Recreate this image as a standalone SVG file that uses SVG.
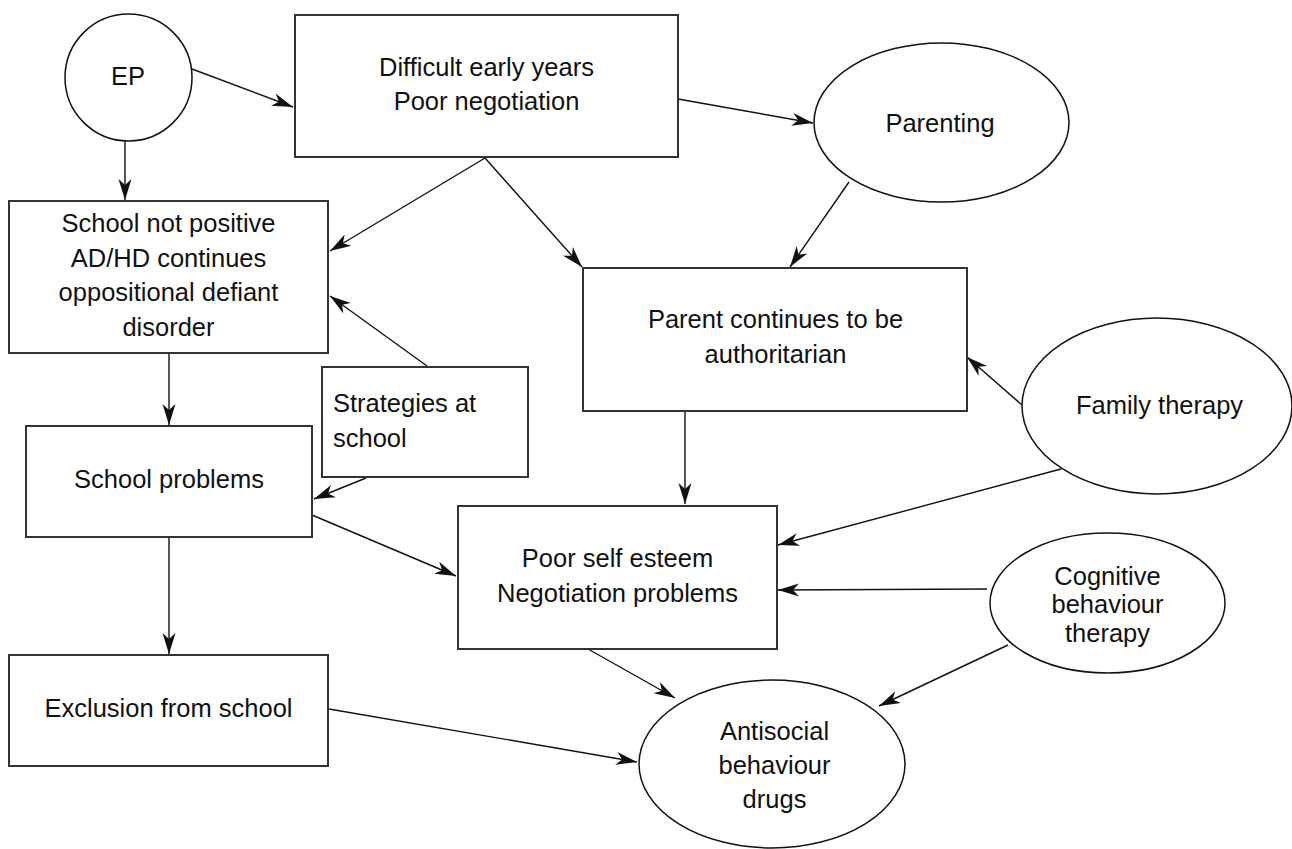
<svg xmlns="http://www.w3.org/2000/svg" width="1292" height="849" viewBox="0 0 1292 849">
  <style>
    .box { fill: #ffffff; stroke: #333333; stroke-width: 2; }
    .oval { fill: #ffffff; stroke: #111111; stroke-width: 1.5; }
    .lbl { font-family: "Liberation Sans", Arial, sans-serif; font-size: 25.5px; fill: #111111; text-anchor: middle; }
    .lbl-left { text-anchor: start; }
    .edge { stroke: #111111; stroke-width: 1.4; fill: none; marker-end: url(#arrow); }
  </style>
  <defs>
    <marker id="arrow" markerUnits="userSpaceOnUse" markerWidth="24" markerHeight="16" viewBox="-22 -8 24 16" refX="0" refY="0" orient="auto">
      <path d="M0,0 L-21,-6.5 L-15,0 L-21,6.5 Z" fill="#111111"/>
    </marker>
  </defs>
  <rect width="1292" height="849" fill="#ffffff"/>

  <g id="connectors">
    <line class="edge" x1="192" y1="69" x2="293" y2="107"/>
    <line class="edge" x1="125" y1="141" x2="125" y2="200"/>
    <line class="edge" x1="678" y1="99" x2="813" y2="123"/>
    <line class="edge" x1="485" y1="158" x2="330" y2="251"/>
    <line class="edge" x1="485" y1="158" x2="582" y2="267"/>
    <line class="edge" x1="849" y1="182" x2="790" y2="267"/>
    <line class="edge" x1="427" y1="366" x2="330" y2="296"/>
    <line class="edge" x1="366" y1="478" x2="314" y2="499"/>
    <line class="edge" x1="169" y1="353" x2="169" y2="425"/>
    <line class="edge" x1="169" y1="537" x2="169" y2="654"/>
    <line class="edge" x1="312" y1="515" x2="456" y2="576"/>
    <line class="edge" x1="685" y1="411" x2="685" y2="504"/>
    <line class="edge" x1="1022" y1="405" x2="967" y2="357"/>
    <line class="edge" x1="1061" y1="469" x2="778" y2="545"/>
    <line class="edge" x1="987" y1="589" x2="778" y2="590"/>
    <line class="edge" x1="1008" y1="645" x2="879" y2="706"/>
    <line class="edge" x1="588" y1="649" x2="675" y2="698"/>
    <line class="edge" x1="329" y1="709" x2="637" y2="762"/>
  </g>

  <g id="node-ep">
    <circle class="oval" cx="128.5" cy="77.5" r="63.5"/>
    <text class="lbl" x="128" y="85">EP</text>
  </g>

  <g id="node-difficult-early-years">
    <rect class="box" x="295" y="15" width="383" height="142"/>
    <text class="lbl" x="486.5" y="76">Difficult early years</text>
    <text class="lbl" x="486.5" y="110">Poor negotiation</text>
  </g>

  <g id="node-parenting">
    <ellipse class="oval" cx="941.5" cy="122.5" rx="127.5" ry="79.5"/>
    <text class="lbl" x="940" y="132">Parenting</text>
  </g>

  <g id="node-school-not-positive">
    <rect class="box" x="9" y="201" width="319" height="152"/>
    <text class="lbl" x="168.5" y="232">School not positive</text>
    <text class="lbl" x="168.5" y="267">AD/HD continues</text>
    <text class="lbl" x="168.5" y="301">oppositional defiant</text>
    <text class="lbl" x="168.5" y="336">disorder</text>
  </g>

  <g id="node-strategies">
    <rect class="box" x="322" y="367" width="206" height="110"/>
    <text class="lbl lbl-left" x="333" y="412">Strategies at</text>
    <text class="lbl lbl-left" x="333" y="447">school</text>
  </g>

  <g id="node-school-problems">
    <rect class="box" x="26" y="426" width="286" height="111"/>
    <text class="lbl" x="169" y="488">School problems</text>
  </g>

  <g id="node-exclusion">
    <rect class="box" x="9" y="655" width="319" height="111"/>
    <text class="lbl" x="168.5" y="717">Exclusion from school</text>
  </g>

  <g id="node-parent-authoritarian">
    <rect class="box" x="583" y="268" width="384" height="143"/>
    <text class="lbl" x="775.5" y="328">Parent continues to be</text>
    <text class="lbl" x="775.5" y="363">authoritarian</text>
  </g>

  <g id="node-family-therapy">
    <ellipse class="oval" cx="1157" cy="406" rx="135" ry="88"/>
    <text class="lbl" x="1159.5" y="414">Family therapy</text>
  </g>

  <g id="node-self-esteem">
    <rect class="box" x="458" y="506" width="319" height="143"/>
    <text class="lbl" x="617.5" y="567">Poor self esteem</text>
    <text class="lbl" x="617.5" y="602">Negotiation problems</text>
  </g>

  <g id="node-cbt">
    <ellipse class="oval" cx="1107.5" cy="603" rx="117.5" ry="70"/>
    <text class="lbl" x="1107.5" y="585">Cognitive</text>
    <text class="lbl" x="1107.5" y="613">behaviour</text>
    <text class="lbl" x="1107.5" y="642">therapy</text>
  </g>

  <g id="node-antisocial">
    <ellipse class="oval" cx="772" cy="764" rx="133" ry="84"/>
    <text class="lbl" x="774.5" y="740">Antisocial</text>
    <text class="lbl" x="774.5" y="774">behaviour</text>
    <text class="lbl" x="774.5" y="808">drugs</text>
  </g>
</svg>
